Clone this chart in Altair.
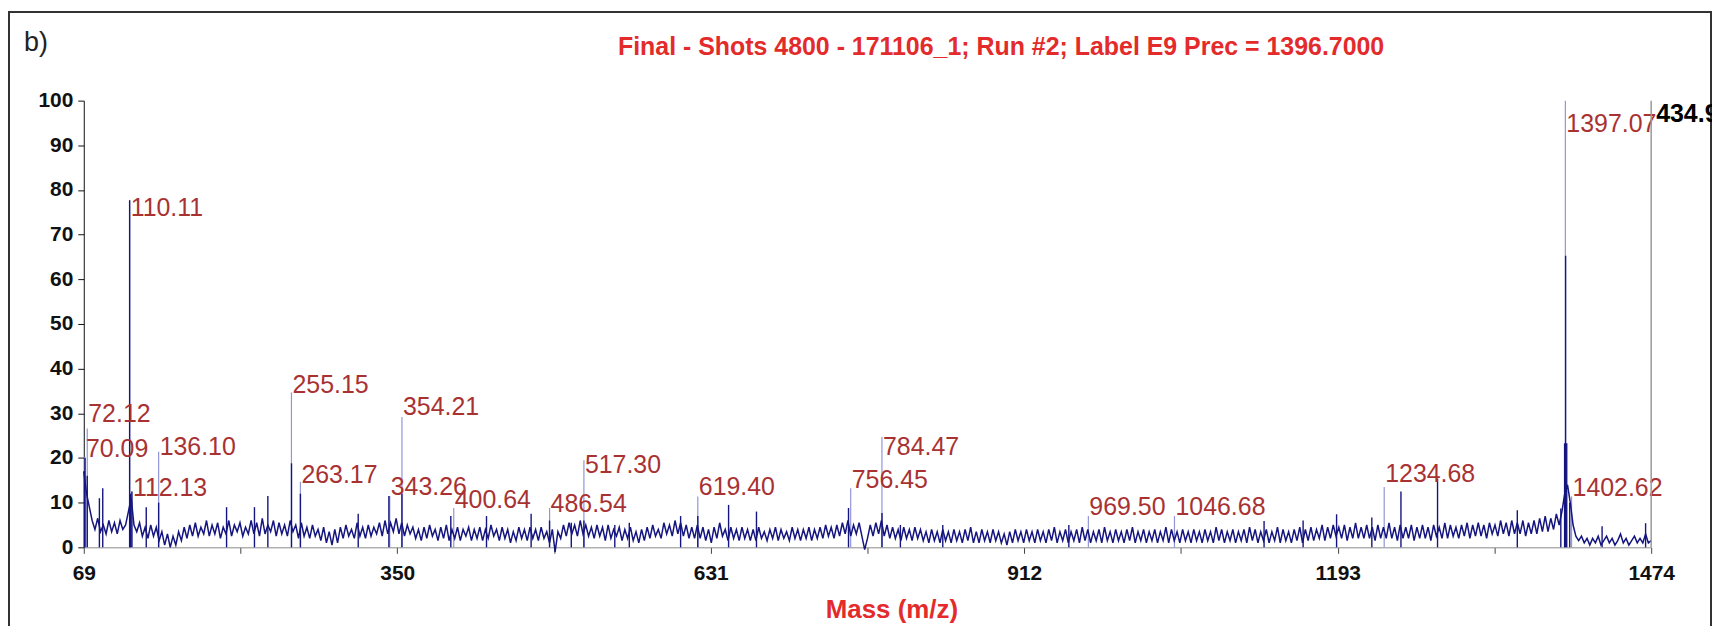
import altair as alt
import pandas as pd

FONT = "Liberation Sans"

# ---------------- data ----------------
# profile trace, sampled every 2.5 m/z from 69 to 1474 (20 samples per row = 50 m/z)
noise_mz = [69 + 2.5 * i for i in range(563)]
noise_int = [
    17, 12, 9, 6, 4, 6.5, 3.5, 5, 3, 6, 3.5, 5.5, 3, 6, 4, 5, 8, 11, 5, 3.5,
    5.5, 2.5, 4.5, 2, 5, 2.5, 4.5, 1.5, 3.5, 0.5, 3, 0, 2.5, 0.5, 3.5, 1.5, 4.5, 2, 5, 2.5,
    5.5, 2.5, 4.5, 3, 6, 2.5, 5, 3, 5.5, 2, 4.5, 3, 6, 2.5, 5, 3.5, 5.5, 2.5, 4.5, 3,
    6, 3, 5.5, 2.5, 6.5, 3, 5, 3.5, 6, 2.5, 5.5, 3, 5, 2.5, 6, 3.5, 5, 2, 5.5, 2.5,
    4.5, 2, 5, 2.5, 4, 1.5, 4.5, 1, 3.5, 0.5, 4, 1, 4.5, 2, 5, 2.5, 4, 2, 5.5, 2.5,
    4.5, 2, 5, 2.5, 4.5, 3, 5.5, 2.5, 6, 3, 5.5, 3.5, 6.5, 3, 5.5, 2.5, 5, 3, 4.5, 2,
    4, 1.5, 4.5, 2, 5, 2.5, 4, 1.5, 4.5, 2, 5, 1.5, 4, 2, 4.5, 1.5, 4, 2.5, 4.5, 1.5,
    4, 2, 4.5, 1.5, 4, 2, 5, 2.5, 4, 1.5, 4.5, 2, 4, 1, 3.5, 1.5, 4.5, 2, 4, 1.5,
    4.5, 2, 4, 1.5, 4.5, 2, 3.5, 1, 4, -1, 3.5, 2, 5, 2.5, 5.5, 3, 5, 2.5, 6, 3,
    5, 2.5, 4.5, 2, 5, 2.5, 4.5, 1.5, 5, 2, 4, 2.5, 4.5, 1.5, 4, 2, 4.5, 1.5, 3.5, 1,
    4, 1.5, 4.5, 2, 5, 2.5, 4, 2, 5.5, 3, 5, 2.5, 6, 3, 5.5, 2.5, 5, 2, 4.5, 2,
    5, 2, 4.5, 1.5, 4, 1, 4.5, 2, 5.5, 2.5, 4, 1.5, 4.5, 2, 4, 1.5, 4.5, 2, 4, 1.5,
    4, 1.5, 4.5, 2, 3.5, 1.5, 4, 2, 4.5, 1.5, 4, 2, 3.5, 1.5, 4.5, 2, 4, 1.5, 4, 2,
    4.5, 1.5, 4, 2, 4.5, 2, 5, 2.5, 4.5, 2, 5, 2.5, 5.5, 3, 6, 2.5, 5, 3, 5.5, 2.5,
    -0.5, 2, 5, 2.5, 5.5, 3, 6, 2.5, 5, 2, 4.5, 2, 4, 1.5, 4.5, 2, 4, 1.5, 4.5, 2,
    4, 1.5, 3.5, 1, 4, 1.5, 3.5, 1, 4, 1.5, 3.5, 1, 4, 1.5, 3.5, 1, 4, 1.5, 4.5, 1,
    3.5, 1, 4, 1.5, 3.5, 1, 4, 1.5, 3.5, 1, 3, 0.5, 3.5, 1, 4, 1.5, 3.5, 1, 4, 1.5,
    3.5, 1, 4, 1.5, 3.5, 1, 4, 1.5, 4.5, 1, 3.5, 1.5, 4, 1, 3.5, 1.5, 4, 1, 4.5, 1.5,
    4, 1, 3.5, 1.5, 4, 1, 4.5, 1.5, 3.5, 1, 4, 1.5, 3.5, 1, 4, 1.5, 4.5, 1, 3.5, 1.5,
    4, 1, 3.5, 1.5, 4, 1, 3.5, 1.5, 4.5, 1, 4, 1.5, 3.5, 1, 4, 1.5, 3.5, 1, 4, 1.5,
    3.5, 1, 4, 1.5, 3.5, 1, 4.5, 1.5, 4, 1, 3.5, 1.5, 4, 1, 3.5, 1.5, 4, 1, 4.5, 1.5,
    4, 1, 3.5, 1.5, 4, 1, 3.5, 1.5, 4.5, 1, 4, 1.5, 3.5, 1, 4, 1.5, 4.5, 1, 4, 1.5,
    4.5, 1.5, 4, 2, 5, 1.5, 4.5, 2, 5, 2.5, 4.5, 2, 5, 1.5, 4.5, 2, 5.5, 2, 4.5, 2,
    5, 2, 4.5, 1.5, 5, 2, 4.5, 2, 5.5, 2, 4.5, 1.5, 5, 2, 4.5, 2, 5, 1.5, 4.5, 2,
    5, 2, 4.5, 1.5, 5, 2.5, 4.5, 2, 5.5, 2, 5, 2.5, 4.5, 2, 5, 2.5, 5.5, 2, 5, 2.5,
    5.5, 2.5, 5, 2, 5.5, 3, 5, 2.5, 6, 3, 5.5, 2.5, 6, 3, 5.5, 3, 6, 2.5, 5.5, 3,
    6, 3, 6.5, 3.5, 7, 3.5, 6.5, 4, 7.5, 5, 8, 12, 14, 10, 5, 2.5, 1.5, 2.5, 1, 2,
    0.5, 2, 1, 2.5, 0.5, 1.5, 2.5, 1, 2, 0.5, 1.5, 3, 1, 2, 0.5, 1.5, 2.5, 1, 2, 1,
    3, 1, 1.5,
]

# labelled peaks (m/z, height) and the height of each label's baseline
peak_mz = [70.09, 72.12, 110.11, 112.13, 136.10, 255.15, 263.17, 343.26,
           354.21, 400.64, 486.54, 517.30, 619.40, 756.45, 784.47, 969.50,
           1046.68, 1234.68, 1397.07, 1402.62]
peak_int = [20.3, 26.6, 77.7, 12.5, 21.4, 34.7, 14.7, 11.5,
            29.2, 8.8, 8.8, 19.5, 11.4, 13.2, 24.7, 7.0,
            7.0, 13.5, 100.0, 11.4]
label_y = [20.3, 28.1, 74.2, 11.4, 20.6, 34.6, 14.3, 11.7,
           29.6, 8.8, 7.8, 16.6, 11.7, 13.2, 20.6, 7.3,
           7.3, 14.7, 93.0, 11.4]

# unlabelled spikes of the profile trace
spike_mz = [69.5, 70.1, 72.1, 83, 86, 110.1, 110.8, 112.1, 125, 136.1,
            197, 222, 234, 255.2, 263.2, 315, 342.5, 354.2, 398, 430,
            470, 486.5, 506, 517.3, 545, 558, 604, 619.4, 647, 672,
            754.5, 784.5, 801, 839, 952, 1127, 1162, 1192, 1223.6, 1249.7,
            1282.5, 1354, 1393, 1396.4, 1397.3, 1398.3, 1401, 1430, 1469]
spike_int = [17, 20, 16, 11, 13.2, 77.7, 12, 12.5, 9, 10,
             9, 9, 11.5, 18.8, 12, 7.5, 11.5, 12, 7, 7,
             7.5, 6, 5.5, 6, 5, 5.5, 7, 7, 9.5, 8,
             8.8, 7.7, 5, 5, 5, 5.9, 6, 7.4, 6.7, 12.5,
             15.4, 8.3, 8.7, 23.3, 65.3, 23.3, 10, 4.7, 5.4]

x_major = [69, 350, 631, 912, 1193, 1474]
x_minor = [209.5, 490.5, 771.5, 1052.5, 1333.5]
y_ticks = [0, 5, 10, 15, 20, 25, 30, 35, 40, 45, 50, 55, 60, 65, 70, 75, 80, 85, 90, 95, 100]

title_text = "Final - Shots 4800 - 171106_1; Run #2; Label E9 Prec = 1396.7000"
panel_text = "b)"
readout_text = "434.9"
readout_pos = (1474, 95.2)

# ---------------- tables ----------------
noise_df = pd.DataFrame({"mz": noise_mz, "intensity": noise_int})
peaks_df = pd.DataFrame({"mz": peak_mz, "intensity": peak_int, "label_y": label_y,
                         "label": [f"{m:.2f}" for m in peak_mz]})
spikes_df = pd.DataFrame({"mz": spike_mz, "intensity": spike_int})
one = pd.DataFrame({"k": [0]})

NAVY = "#15157f"
xs = alt.Scale(domain=[69, 1474], nice=False, zero=False)
ys = alt.Scale(domain=[0, 100], nice=False, zero=True)

x_axis = alt.Axis(
    values=sorted(x_major + x_minor),
    labelExpr="indexof([69,350,631,912,1193,1474], datum.value) >= 0 ? datum.label : ''",
    format="d", grid=False, tickSize=6, labelPadding=9, labelFlush=False,
    domainColor="#8a8a8a", tickColor="#444", labelFont=FONT, labelFontSize=21,
    labelFontWeight="bold", labelColor="#111",
    title="Mass (m/z)", titleFont=FONT, titleFontSize=26, titleFontWeight="bold",
    titleColor="#e32b2b", titleX=810, titleY=70, titleBaseline="alphabetic",
    titleAlign="center",
)
y_axis = alt.Axis(
    values=y_ticks, labelExpr="datum.value % 10 == 0 ? datum.label : ''",
    grid=False, tickSize=6, labelPadding=5, labelFlush=False,
    domainColor="#111", tickColor="#111",
    labelFont=FONT, labelFontSize=21, labelFontWeight="bold", labelColor="#111",
    title=None,
)

frame = alt.Chart(one).mark_rect(filled=False, stroke="#333", strokeWidth=2).encode(
    x=alt.value(-75), x2=alt.value(1632), y=alt.value(-89), y2=alt.value(560)
)

sticks = alt.Chart(peaks_df).mark_rule(color="#9296d8", strokeWidth=1.2).encode(
    x=alt.X("mz:Q", scale=xs, axis=x_axis),
    y=alt.Y("intensity:Q", scale=ys, axis=y_axis),
    y2=alt.datum(0),
)

trace = alt.Chart(noise_df).mark_line(color=NAVY, strokeWidth=1.5).encode(
    x=alt.X("mz:Q", scale=xs),
    y=alt.Y("intensity:Q", scale=ys),
)

spikes = alt.Chart(spikes_df).mark_rule(color=NAVY, strokeWidth=1.4).encode(
    x=alt.X("mz:Q", scale=xs),
    y=alt.Y("intensity:Q", scale=ys),
    y2=alt.datum(0),
)

labels = alt.Chart(peaks_df).mark_text(
    align="left", baseline="alphabetic", dx=1, font=FONT, fontSize=25, color="#a83232"
).encode(
    x=alt.X("mz:Q", scale=xs),
    y=alt.Y("label_y:Q", scale=ys),
    text="label:N",
)

edge = alt.Chart(one).mark_rule(color="#9a9a9a", strokeWidth=1.5).encode(
    x=alt.datum(1474), y=alt.datum(0), y2=alt.datum(100)
)

readout = alt.Chart(one).mark_text(
    text=readout_text, align="left", baseline="alphabetic", dx=5,
    font=FONT, fontSize=25, fontWeight="bold", color="#000"
).encode(x=alt.datum(readout_pos[0]), y=alt.datum(readout_pos[1]))

title = alt.Chart(one).mark_text(
    text=title_text, align="center", baseline="alphabetic",
    font=FONT, fontSize=25, fontWeight="bold", color="#e32b2b"
).encode(x=alt.value(920), y=alt.value(-46))

panel = alt.Chart(one).mark_text(
    text=panel_text, align="left", baseline="alphabetic",
    font=FONT, fontSize=27, color="#222"
).encode(x=alt.value(-60), y=alt.value(-50))

chart = alt.layer(frame, sticks, trace, spikes, labels, edge, readout, title, panel).properties(
    width=1572, height=448,
    padding={"left": 76, "top": 92, "right": 61, "bottom": 80},
    autosize="none",
).configure_view(stroke=None)

chart.save("out.html", embed_options={"renderer": "svg", "actions": False})
